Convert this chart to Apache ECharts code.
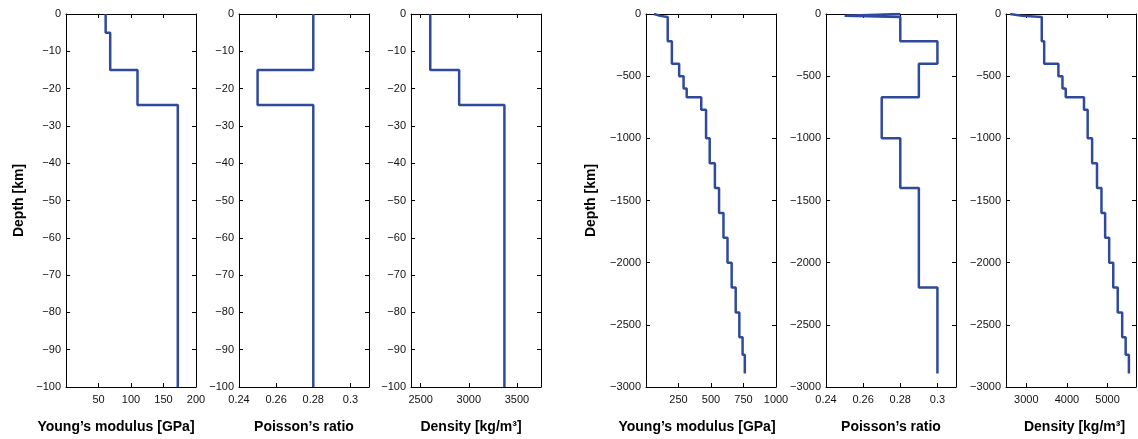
<!DOCTYPE html>
<html><head><meta charset="utf-8">
<script src="https://cdn.jsdelivr.net/npm/echarts@6/dist/echarts.min.js"></script>
<style>html,body{margin:0;padding:0;background:#fff}#c{width:1138px;height:439px}</style>
</head><body><div id="c"></div>
<script>
// ---- Data: shallow model (0 to -100 km) ----
const crustDepths   = [0, -5, -15, -24.4, -100];          // layer boundaries [km]
const crustYoung    = [61, 68, 110, 172];                 // GPa
const crustPoisson  = [0.28, 0.28, 0.25, 0.28];
const crustDensity  = [2600, 2600, 2900, 3370];           // kg/m3

// ---- Data: deep model (0 to -2891 km) ----
const deepDepths  = [0, -5, -15, -24.4, -220, -400, -500, -600, -670, -771, -1000,
                     -1200, -1400, -1600, -1800, -2000, -2200, -2400, -2600, -2740, -2891];
const deepYoung   = [61, 68, 110, 167, 199, 255, 289, 313, 425, 462, 490,
                     530, 562, 596, 627, 659, 690, 718, 743, 760];
const deepPoisson = [0.28, 0.28, 0.25, 0.28, 0.30, 0.29, 0.29, 0.29, 0.27, 0.27, 0.28,
                     0.28, 0.29, 0.29, 0.29, 0.29, 0.30, 0.30, 0.30, 0.30];
const deepDensity = [2600, 2600, 2900, 3380, 3440, 3790, 3890, 3970, 4420, 4510, 4620,
                     4740, 4850, 4940, 5040, 5140, 5250, 5360, 5445, 5525];

// ---- Tick values ----
const youngTicksCrust   = [50, 100, 150, 200];
const poissonTicks      = [0.24, 0.26, 0.28, 0.3];
const densityTicksCrust = [2500, 3000, 3500];
const youngTicksDeep    = [250, 500, 750, 1000];
const densityTicksDeep  = [3000, 4000, 5000];

// ---- Labels ----
const depthLabel   = 'Depth [km]';
const youngLabel   = 'Young’s modulus [GPa]';
const poissonLabel = 'Poisson’s ratio';
const densityLabel = 'Density [kg/m³]';

const LINE = '#2f4a9c';
const FONT = '"Liberation Sans", Arial, Helvetica, sans-serif';

function profile(bounds, values) {
  const pts = [];
  for (let i = 0; i < values.length; i++) {
    pts.push([values[i], bounds[i]]);
    pts.push([values[i], bounds[i + 1]]);
  }
  return pts;
}
const fmt = v => String(Math.round(v * 1e6) / 1e6).replace('-', '\u2212');

const panels = [
  {left: 66,   xMin: 0,    xMax: 200,  ticks: youngTicksCrust,   yMin: -100,  yInt: 10,  b: crustDepths, v: crustYoung,   title: youngLabel,   pad: [0, 30, 0, 0], yName: depthLabel, yGap: 40},
  {left: 239,  xMin: 0.24, xMax: 0.31, ticks: poissonTicks,      yMin: -100,  yInt: 10,  b: crustDepths, v: crustPoisson, title: poissonLabel, pad: [0, 0, 0, 0]},
  {left: 411,  xMin: 2400, xMax: 3750, ticks: densityTicksCrust, yMin: -100,  yInt: 10,  b: crustDepths, v: crustDensity, title: densityLabel, pad: [0, 10, 0, 0]},
  {left: 646,  xMin: 0,    xMax: 1000, ticks: youngTicksDeep,    yMin: -3000, yInt: 500, b: deepDepths,  v: deepYoung,    title: youngLabel,   pad: [0, 28, 0, 0], yName: depthLabel, yGap: 48},
  {left: 826,  xMin: 0.24, xMax: 0.31, ticks: poissonTicks,      yMin: -3000, yInt: 500, b: deepDepths,  v: deepPoisson,  title: poissonLabel, pad: [0, 0, 0, 0]},
  {left: 1006, xMin: 2500, xMax: 5700, ticks: densityTicksDeep,  yMin: -3000, yInt: 500, b: deepDepths,  v: deepDensity,  title: densityLabel, pad: [0, 0, 0, 7]}
];

const grid = [], xAxis = [], yAxis = [], series = [];
const tick = {show: true, inside: true, length: 4, lineStyle: {color: '#000', width: 1}};
const aline = {show: true, onZero: false, lineStyle: {color: '#000', width: 1}};
const lbl = {color: '#111', fontSize: 11, fontFamily: FONT};

panels.forEach((p, i) => {
  grid.push({left: p.left, top: 14, width: 130, height: 374, containLabel: false});
  xAxis.push({
    type: 'value', gridIndex: i, position: 'bottom', min: p.xMin, max: p.xMax,
    axisLine: aline, splitLine: {show: false},
    axisTick: Object.assign({}, tick, {customValues: p.ticks}),
    axisLabel: Object.assign({}, lbl, {customValues: p.ticks, margin: 7, formatter: fmt}),
    name: p.title, nameLocation: 'middle', nameGap: 33,
    nameTextStyle: {color: '#000', fontSize: 14, fontWeight: 'bold', fontFamily: FONT, padding: p.pad}
  });
  xAxis.push({
    type: 'value', gridIndex: i, position: 'top', min: p.xMin, max: p.xMax,
    axisLine: aline, splitLine: {show: false},
    axisTick: Object.assign({}, tick, {customValues: p.ticks}),
    axisLabel: {show: false}
  });
  const yl = {
    type: 'value', gridIndex: i, position: 'left', min: p.yMin, max: 0, interval: p.yInt,
    axisLine: aline, splitLine: {show: false}, axisTick: tick,
    axisLabel: Object.assign({}, lbl, {margin: 5, formatter: fmt})
  };
  if (p.yName) {
    Object.assign(yl, {name: p.yName, nameLocation: 'middle', nameGap: p.yGap,
      nameTextStyle: {color: '#000', fontSize: 14, fontWeight: 'bold', fontFamily: FONT}});
  }
  yAxis.push(yl);
  yAxis.push({
    type: 'value', gridIndex: i, position: 'right', min: p.yMin, max: 0, interval: p.yInt,
    axisLine: aline, splitLine: {show: false}, axisTick: tick, axisLabel: {show: false}
  });
  series.push({
    type: 'line', xAxisIndex: 2 * i, yAxisIndex: 2 * i, data: profile(p.b, p.v),
    showSymbol: false, symbol: 'none', lineStyle: {color: LINE, width: 2.5}, z: 1
  });
});

const chart = echarts.init(document.getElementById('c'));
chart.setOption({animation: false, backgroundColor: '#fff', grid, xAxis, yAxis, series});
</script>
</body></html>
